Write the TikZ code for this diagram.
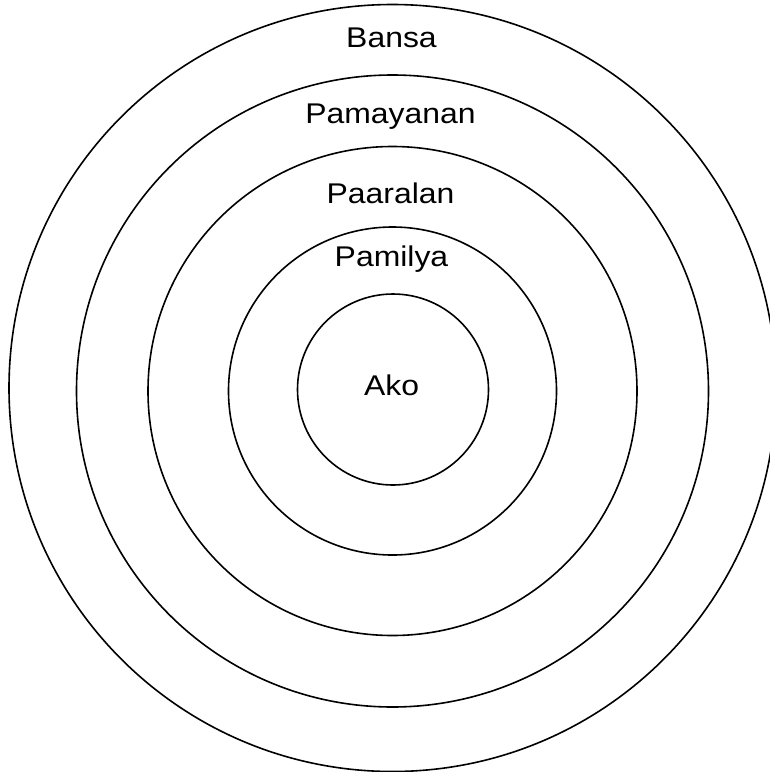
\documentclass[tikz,border=0pt]{standalone}
\usepackage{fontspec}
\setmainfont{Liberation Sans}[FakeStretch=1.12]
\begin{document}
\begin{tikzpicture}[x=1pt,y=-1pt,
  ring/.style={circle,draw=black,line width=1.6pt,inner sep=0pt,minimum size=#1},
  lbl/.style={anchor=base,inner sep=0pt,font=\fontsize{28.5}{32}\selectfont}]
\useasboundingbox (0,0) rectangle (770,772);
\node[ring=767pt] (bansa) at (392.5,388) {};
\node[ring=632pt] (pamayanan) at (392.5,391) {};
\node[ring=489pt] (paaralan) at (392.5,391) {};
\node[ring=328pt] (pamilya) at (392.5,391) {};
\node[ring=191pt] (ako) at (393,389.5) {};
\node[lbl] (tbansa) at (391.5,47) {Bansa};
\node[lbl] (tpamayanan) at (390.5,123.3) {Pamayanan};
\node[lbl] (tpaaralan) at (390.5,203.3) {Paaralan};
\node[lbl] (tpamilya) at (391.5,266.7) {Pamilya};
\node[lbl] (tako) at (391.7,395) {Ako};
\end{tikzpicture}
\end{document}
